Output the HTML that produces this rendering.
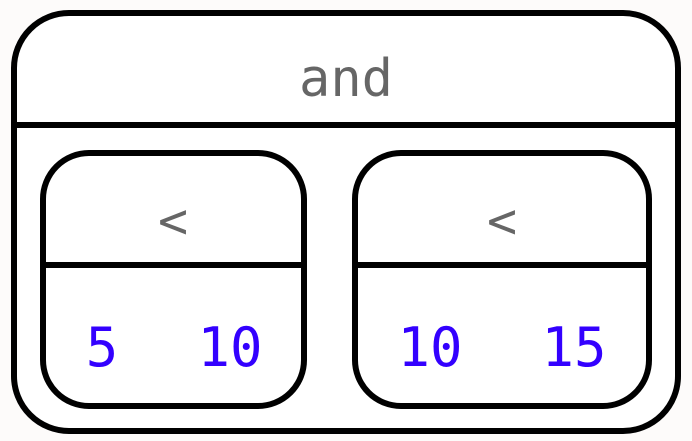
<!DOCTYPE html>
<html><head><meta charset="utf-8"><style>
html,body{margin:0;padding:0;background:#fcf8f6;width:692px;height:441px;overflow:hidden}
svg{display:block}
text{font-family:"DejaVu Sans Mono","Liberation Mono",monospace}
</style></head><body>
<svg width="692" height="441" viewBox="0 0 692 441">
<rect x="0" y="0" width="692" height="441" fill="#fdfbfa"/>
<g>
<rect x="14" y="13" width="664" height="418" rx="55" fill="#fff" stroke="#000" stroke-width="6"/>
<line x1="14" y1="125" x2="678" y2="125" stroke="#000" stroke-width="6"/>
<text x="346" y="96" font-size="52" fill="#666" text-anchor="middle">and</text>
</g>
<g>
<rect x="43" y="153" width="261" height="253" rx="46" fill="#fff" stroke="#000" stroke-width="6"/>
<line x1="43" y1="265" x2="304" y2="265" stroke="#000" stroke-width="6"/>
<text x="173" y="238" font-size="50" fill="#666" text-anchor="middle">&lt;</text>
<text x="102" y="366" font-size="54" fill="#3300ff" text-anchor="middle">5</text>
<text x="230" y="366" font-size="54" fill="#3300ff" text-anchor="middle">10</text>
</g>
<g>
<rect x="355" y="153" width="294" height="253" rx="46" fill="#fff" stroke="#000" stroke-width="6"/>
<line x1="355" y1="265" x2="649" y2="265" stroke="#000" stroke-width="6"/>
<text x="502" y="238" font-size="50" fill="#666" text-anchor="middle">&lt;</text>
<text x="430" y="366" font-size="54" fill="#3300ff" text-anchor="middle">10</text>
<text x="574" y="366" font-size="54" fill="#3300ff" text-anchor="middle">15</text>
</g>
</svg>
</body></html>
